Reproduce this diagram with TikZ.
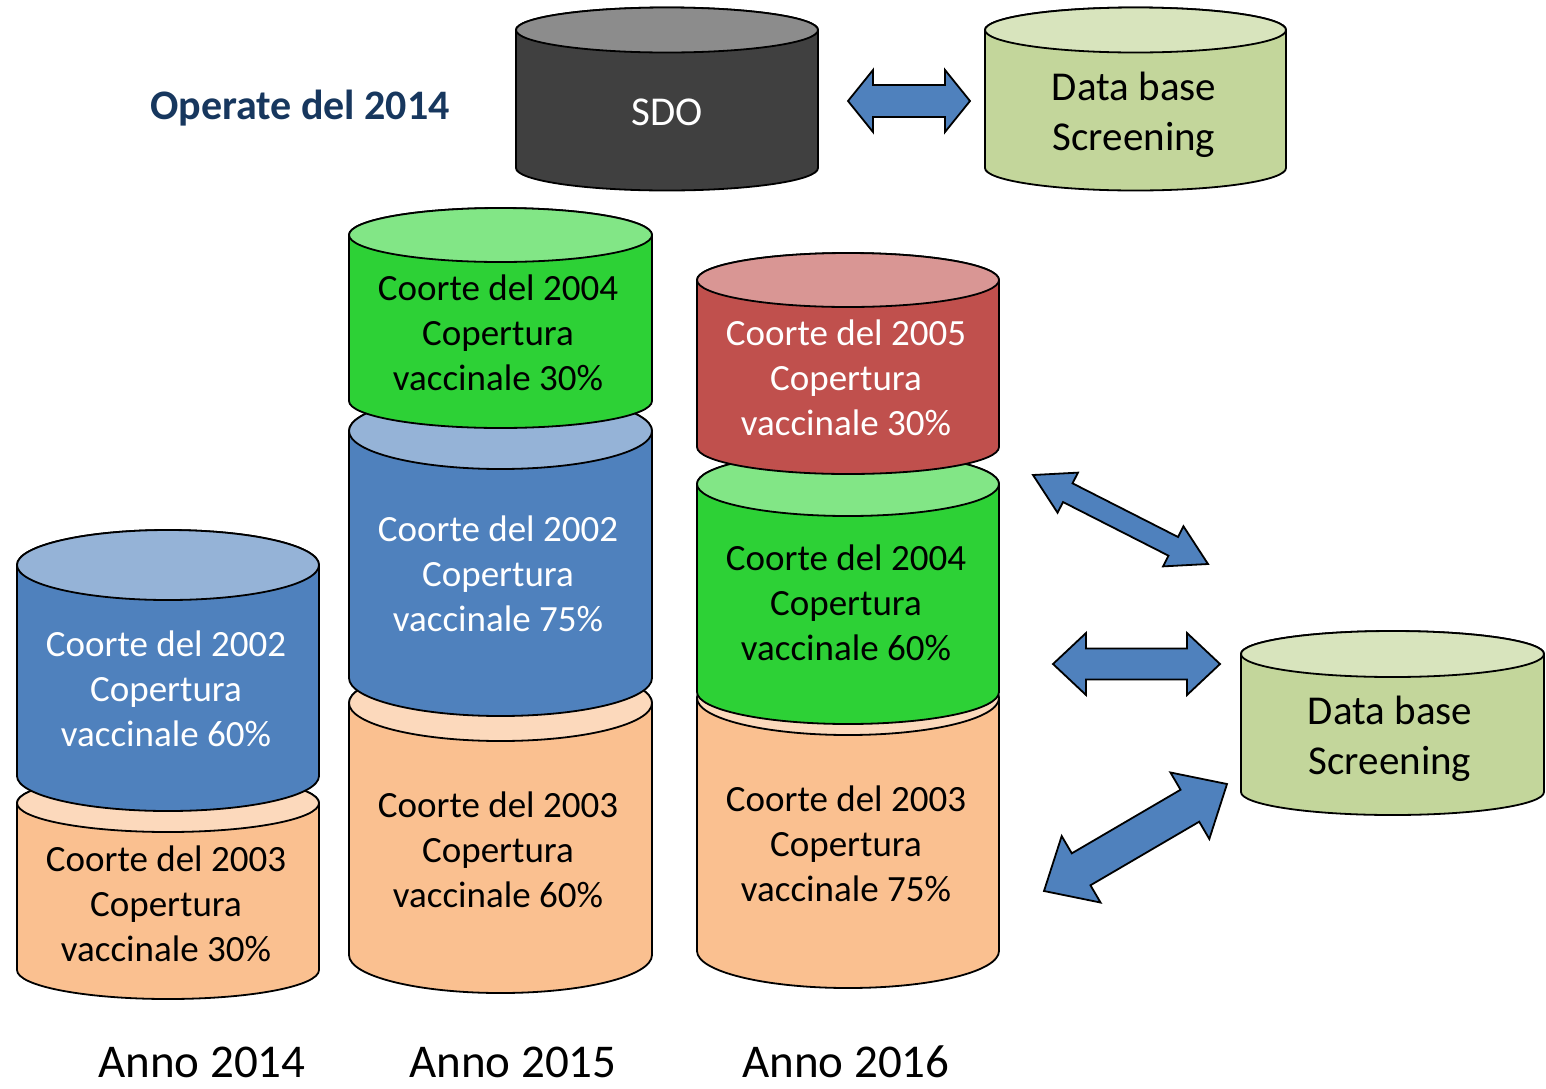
\documentclass[tikz,border=0pt]{standalone}
\usepackage{fontspec}
\setmainfont{Carlito}
\definecolor{arrowblue}{HTML}{4F81BD}
\definecolor{blueBody}{HTML}{4F81BD}
\definecolor{blueTop}{HTML}{95B3D7}
\definecolor{orBody}{HTML}{FAC090}
\definecolor{orTop}{HTML}{FCD9BC}
\definecolor{grBody}{HTML}{2DD136}
\definecolor{grTop}{HTML}{82E686}
\definecolor{rdBody}{HTML}{C0504D}
\definecolor{rdTop}{HTML}{D99694}
\definecolor{dbBody}{HTML}{C3D69B}
\definecolor{dbTop}{HTML}{D8E4BD}
\definecolor{sdoBody}{HTML}{404040}
\definecolor{sdoTop}{HTML}{8C8C8C}
\definecolor{navy}{HTML}{17375E}
\tikzset{
  cylline/.style={draw=black, line width=0.9pt},
  blockarrow/.style={draw=black, line width=0.9pt, fill=arrowblue, line join=miter},
  cyltext/.style={align=center, font=\fontsize{18.5}{22.5}\selectfont, inner sep=0pt},
  dbtext/.style={align=center, font=\fontsize{20.5}{25}\selectfont, inner sep=0pt},
  yeartext/.style={font=\fontsize{23.5}{28}\selectfont, inner sep=0pt},
}
% #1 name, #2 xl, #3 xr, #4 ytop centre, #5 ybot centre, #6 ry, #7 body, #8 top
\newcommand{\mycyl}[8]{%
  \pgfmathsetmacro{\cylcx}{(#2+#3)/2}%
  \pgfmathsetmacro{\cylrx}{(#3-#2)/2}%
  \filldraw[cylline, fill=#7] (#2,-#4) -- (#2,-#5)
    arc[start angle=180, end angle=360, x radius=\cylrx, y radius=#6]
    -- (#3,-#4)
    arc[start angle=0, end angle=180, x radius=\cylrx, y radius=#6] -- cycle;
  \filldraw[cylline, fill=#8] (\cylcx,-#4) ellipse[x radius=\cylrx, y radius=#6];
  \coordinate (#1) at (\cylcx,{-(#4+#5)/2});
}
% #1,#2 tip A ; #3,#4 tip B ; #5 head length ; #6 head half width ; #7 shaft half width
\newcommand{\mydblarr}[7]{%
  \pgfmathsetmacro{\arrL}{veclen(#3-#1,#4-#2)}%
  \pgfmathsetmacro{\arrA}{atan2(#2-#4,#3-#1)}%
  \pgfmathsetmacro{\arrM}{\arrL-#5}%
  \draw[blockarrow, shift={(#1,-#2)}, rotate=\arrA]
    (0,0) -- (#5,#6) -- (#5,#7) -- (\arrM,#7) -- (\arrM,#6) -- (\arrL,0)
    -- (\arrM,-#6) -- (\arrM,-#7) -- (#5,-#7) -- (#5,-#6) -- cycle;
}
\begin{document}
\begin{tikzpicture}[x=0.5pt,y=0.5pt]
\useasboundingbox (0,0) rectangle (1546,-1088);

% top row
\mycyl{sdo}{516}{818}{30}{168}{22.5}{sdoBody}{sdoTop}
\mycyl{dbtop}{985}{1286}{30}{168}{22.5}{dbBody}{dbTop}
\mydblarr{848}{101}{970}{101}{25}{31}{16}

% Anno 2014
\mycyl{o14}{17}{319}{803}{970}{29}{orBody}{orTop}
\mycyl{b14}{17}{319}{565}{776}{35}{blueBody}{blueTop}

% Anno 2015
\mycyl{o15}{349}{652}{703}{955}{38}{orBody}{orTop}
\mycyl{b15}{349}{652}{431}{678}{38}{blueBody}{blueTop}
\mycyl{g15}{349}{652}{235}{401}{27}{grBody}{grTop}

% Anno 2016
\mycyl{o16}{697}{999}{698}{951}{37}{orBody}{orTop}
\mycyl{g16}{697}{999}{484}{692}{32}{grBody}{grTop}
\mycyl{r16}{697}{999}{280}{447}{27}{rdBody}{rdTop}

% right data base
\mycyl{dbright}{1241}{1544}{654}{792}{23}{dbBody}{dbTop}

% block arrows
\mydblarr{1053}{664}{1220}{664}{33}{31}{15.5}
\mydblarr{1033}{475}{1208}{564}{39}{22.5}{10.5}
\mydblarr{1044}{891}{1227}{784}{43}{38.5}{18.5}

% texts
\node[font=\fontsize{21}{25}\selectfont\bfseries, text=navy, inner sep=0pt] (op) at (300,-108) {Operate del 2014};
\node[dbtext, text=white] (tsdo) at (667,-112) {SDO};
\node[dbtext] (tdbtop) at (1134,-115) {Data base\\Screening};
\node[dbtext] (tdbright) at (1390,-739) {Data base\\Screening};

\node[cyltext, text=white] (tb14) at (166,-689) {Coorte del 2002\\Copertura\\vaccinale 60\%};
\node[cyltext] (to14) at (166,-904) {Coorte del 2003\\Copertura\\vaccinale 30\%};

\node[cyltext] (tg15) at (498,-333) {Coorte del 2004\\Copertura\\vaccinale 30\%};
\node[cyltext, text=white] (tb15) at (498,-574) {Coorte del 2002\\Copertura\\vaccinale 75\%};
\node[cyltext] (to15) at (498,-850) {Coorte del 2003\\Copertura\\vaccinale 60\%};

\node[cyltext, text=white] (tr16) at (846,-378) {Coorte del 2005\\Copertura\\vaccinale 30\%};
\node[cyltext] (tg16) at (846,-603) {Coorte del 2004\\Copertura\\vaccinale 60\%};
\node[cyltext] (to16) at (846,-844) {Coorte del 2003\\Copertura\\vaccinale 75\%};

\node[yeartext] (y14) at (202,-1062) {Anno 2014};
\node[yeartext] (y15) at (513,-1062) {Anno 2015};
\node[yeartext] (y16) at (846,-1062) {Anno 2016};
\end{tikzpicture}
\end{document}
